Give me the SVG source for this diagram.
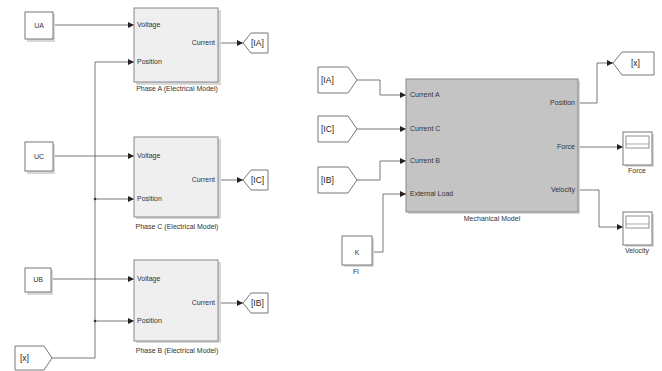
<svg xmlns="http://www.w3.org/2000/svg" width="662" height="371" viewBox="0 0 662 371">
<style>
text{font-family:"Liberation Sans",Arial,sans-serif;font-size:7px;fill:#333}
.t{font-size:8.5px;fill:#222}
.blk{fill:#fff;stroke:#777;stroke-width:1}
.sh{fill:#d8d8d8}
.el{fill:#efefef;stroke:#888;stroke-width:1}
.mech{fill:#c4c4c4;stroke:#888;stroke-width:1}
.w{fill:none;stroke:#555;stroke-width:0.8}
.tag{fill:#fff;stroke:#777;stroke-width:1}
.m{text-anchor:middle}
.e{text-anchor:end}
</style>
<defs>
<marker id="ar" markerWidth="6" markerHeight="6" refX="6" refY="3" orient="auto" markerUnits="userSpaceOnUse"><path d="M0,0 L6,3 L0,6 Z" fill="#222"/></marker>
</defs>
<rect width="662" height="371" fill="#fff"/>

<g id="connectors">
<path class="w" d="M53,25 H134" marker-end="url(#ar)"/>
<path class="w" d="M53,156 H134" marker-end="url(#ar)"/>
<path class="w" d="M51,279 H134" marker-end="url(#ar)"/>
<path class="w" d="M52,358 H95 V62 H134" marker-end="url(#ar)"/>
<path class="w" d="M95,199 H134" marker-end="url(#ar)"/>
<path class="w" d="M95,321 H134" marker-end="url(#ar)"/>
<circle cx="95" cy="199" r="1.3" fill="#333"/>
<circle cx="95" cy="321" r="1.3" fill="#333"/>
<path class="w" d="M219,43 H243" marker-end="url(#ar)"/>
<path class="w" d="M219,180 H243" marker-end="url(#ar)"/>
<path class="w" d="M219,303 H243" marker-end="url(#ar)"/>
<path class="w" d="M357,80 H380 V95 H406" marker-end="url(#ar)"/>
<path class="w" d="M357,129 H406" marker-end="url(#ar)"/>
<path class="w" d="M357,180 H380 V161 H406" marker-end="url(#ar)"/>
<path class="w" d="M372,252 H383 V194 H406" marker-end="url(#ar)"/>
<path class="w" d="M578,103 H597 V63 H613" marker-end="url(#ar)"/>
<path class="w" d="M578,147 H623" marker-end="url(#ar)"/>
<path class="w" d="M578,190 H599 V227 H623" marker-end="url(#ar)"/>
</g>

<g id="UA"><rect class="sh" x="27" y="14" width="28" height="28"/><rect class="blk" x="25" y="12" width="28" height="27"/><text class="m" x="39" y="28">UA</text></g>
<g id="UC"><rect class="sh" x="27" y="144" width="28" height="30"/><rect class="blk" x="25" y="142" width="28" height="29"/><text class="m" x="39" y="159">UC</text></g>
<g id="UB"><rect class="sh" x="27" y="270" width="26" height="25"/><rect class="blk" x="25" y="268" width="26" height="24"/><text class="m" x="38" y="282">UB</text></g>
<g id="x_from"><path class="tag" d="M15,346 H44 L52,358 L44,370 H15 Z"/><text class="t" x="20" y="361">[x]</text></g>

<g id="phaseA">
<rect class="sh" x="136" y="10" width="85" height="75"/>
<rect class="el" x="134" y="8" width="84" height="74"/>
<text x="137" y="27">Voltage</text><text x="137" y="64">Position</text><text class="e" x="215" y="45">Current</text>
<text class="m" x="177" y="91">Phase A (Electrical Model)</text>
</g>
<g id="phaseC">
<rect class="sh" x="136" y="139" width="85" height="80"/>
<rect class="el" x="134" y="137" width="84" height="80"/>
<text x="137" y="158">Voltage</text><text x="137" y="201">Position</text><text class="e" x="215" y="182">Current</text>
<text class="m" x="177" y="229">Phase C (Electrical Model)</text>
</g>
<g id="phaseB">
<rect class="sh" x="136" y="262" width="85" height="81"/>
<rect class="el" x="134" y="260" width="84" height="81"/>
<text x="137" y="281">Voltage</text><text x="137" y="323">Position</text><text class="e" x="215" y="305">Current</text>
<text class="m" x="177" y="353">Phase B (Electrical Model)</text>
</g>

<g id="gotoIA"><path class="tag" d="M243,43 L251,33 H268 V53 H251 Z"/><text class="t" x="251" y="46">[IA]</text></g>
<g id="gotoIC"><path class="tag" d="M243,180 L251,170 H268 V190 H251 Z"/><text class="t" x="251" y="183">[IC]</text></g>
<g id="gotoIB"><path class="tag" d="M243,303 L251,293 H268 V313 H251 Z"/><text class="t" x="251" y="306">[IB]</text></g>

<g id="fromIA"><path class="tag" d="M318,67 H348 L357,80 L348,93 H318 Z"/><text class="t" x="321" y="83">[IA]</text></g>
<g id="fromIC"><path class="tag" d="M318,116 H348 L357,129 L348,142 H318 Z"/><text class="t" x="321" y="132">[IC]</text></g>
<g id="fromIB"><path class="tag" d="M318,167 H348 L357,180 L348,193 H318 Z"/><text class="t" x="321" y="183">[IB]</text></g>

<g id="FL"><rect class="sh" x="344" y="238" width="30" height="29"/><rect class="blk" x="342" y="236" width="30" height="29"/><text class="m" x="357" y="255">K</text><text class="m" x="356" y="274">Fl</text></g>

<g id="mechanical">
<rect class="sh" x="408" y="81" width="172" height="133"/>
<rect class="mech" x="406" y="79" width="172" height="133"/>
<text x="410" y="97">Current A</text><text x="410" y="131">Current C</text><text x="410" y="163">Current B</text><text x="410" y="196">External Load</text>
<text class="e" x="575" y="105">Position</text><text class="e" x="575" y="149">Force</text><text class="e" x="575" y="192">Velocity</text>
<text class="m" x="492" y="221">Mechanical Model</text>
</g>

<g id="gotoX"><path class="tag" d="M613,63 L622,52 H654 V75 H622 Z"/><text class="t" x="631" y="66">[x]</text></g>

<g id="scopeForce">
<rect class="sh" x="625" y="134" width="29" height="33"/>
<rect class="blk" x="623" y="132" width="29" height="33"/>
<rect x="626" y="136" width="23" height="12" fill="#fff" stroke="#777" stroke-width="0.8"/>
<line x1="626" y1="144" x2="649" y2="144" stroke="#999" stroke-width="0.8"/>
<text class="m" x="637" y="173">Force</text>
</g>
<g id="scopeVelocity">
<rect class="sh" x="625" y="214" width="29" height="33"/>
<rect class="blk" x="623" y="212" width="29" height="33"/>
<rect x="626" y="216" width="23" height="12" fill="#fff" stroke="#777" stroke-width="0.8"/>
<line x1="626" y1="224" x2="649" y2="224" stroke="#999" stroke-width="0.8"/>
<text class="m" x="637" y="253">Velocity</text>
</g>
</svg>
